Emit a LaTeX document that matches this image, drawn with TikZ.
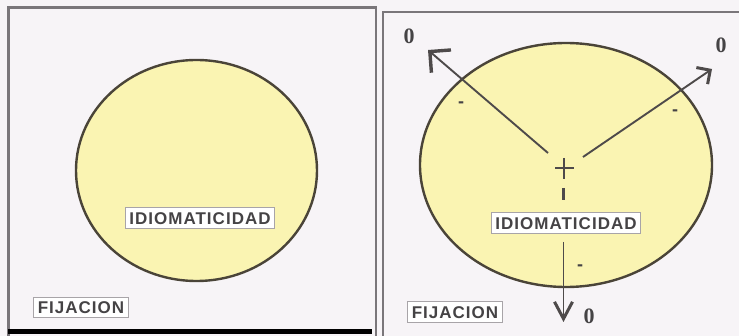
\documentclass[tikz,border=0pt]{standalone}
\usepackage{fontspec}
\newfontfamily\labfont[LetterSpace=6.0]{Liberation Sans}
\newfontfamily\zerofont{Liberation Serif}
\usetikzlibrary{arrows.meta,shapes.geometric}
\definecolor{bg}{HTML}{F7F4F7}
\definecolor{framec}{HTML}{7A767A}
\definecolor{ellfill}{HTML}{FAF4B2}
\definecolor{ellline}{HTML}{4A4438}
\definecolor{boxline}{HTML}{A8A4A8}
\definecolor{txt}{HTML}{454345}
\definecolor{arrc}{HTML}{4E4A4A}
\tikzset{
  frame/.style={draw=framec,line width=2.6pt},
  blob/.style={ellipse,draw=ellline,fill=ellfill,line width=2.4pt,inner sep=0pt},
  labelbox/.style={draw=boxline,fill=white,line width=0.8pt,text=txt,
    font=\labfont\bfseries\fontsize{17}{17}\selectfont,inner xsep=4pt,inner ysep=4pt,
    text height=12.5pt,text depth=0pt},
  zerolab/.style={text=txt,font=\zerofont\bfseries\fontsize{22}{22}\selectfont,inner sep=0pt},
  minuslab/.style={text=txt,font=\labfont\bfseries\fontsize{18}{18}\selectfont,inner sep=0pt},
  ray/.style={draw=arrc,line width=1.9pt},
}
\begin{document}
\begin{tikzpicture}[x=1pt,y=-1pt]
\useasboundingbox (0,0) rectangle (739,336);
\fill[bg] (0,0) rectangle (739,336);
% left panel
\draw[frame] (8.5,336) -- (8.5,7.5) -- (376,7.5) -- (376,336);
\fill[black] (8,329) rectangle (372,334);
\node[blob,minimum width=241pt,minimum height=221pt] (ellA) at (196.5,170.5) {};
\node[labelbox] (idA) at (200,218) {IDIOMATICIDAD};
\node[labelbox] (fijA) at (81,307.5) {FIJACION};
% right panel
\draw[frame] (383,336) -- (383,12) -- (739,12);
\node[blob,minimum width=292pt,minimum height=244pt] (ellB) at (566,165) {};
\node[labelbox] (idB) at (566,223) {IDIOMATICIDAD};
\node[labelbox] (fijB) at (455,312) {FIJACION};
% plus sign
\coordinate (plusc) at (564,168);
\draw[draw=arrc,line width=2.4pt] (555,168) -- (574,168);
\draw[draw=arrc,line width=2.4pt] (564,158) -- (564,179);
\draw[draw=arrc,line width=2.4pt] (563.5,188) -- (563.5,200);
% rays
\coordinate (startL) at (548,153);
\coordinate (tipL) at (428,50);
\coordinate (startR) at (583,157);
\coordinate (tipR) at (712,69);
\coordinate (startD) at (563.5,242);
\coordinate (tipD) at (563.5,322);
\draw[ray,-{Straight Barb[length=15pt,width=30pt,line width=3.4pt]}] (startL) -- (tipL);
\draw[ray,-{Straight Barb[length=10pt,width=20pt,line width=3pt]}] (startR) -- (tipR);
\draw[ray,-{Straight Barb[length=17pt,width=18pt,line width=3pt]}] (startD) -- (tipD);
% labels
\node[zerolab] (zL) at (409,36) {0};
\node[zerolab] (zR) at (721,45) {0};
\node[zerolab] (zD) at (589,316) {0};
\node[minuslab] (mL) at (461,105) {-};
\node[minuslab] (mR) at (675,113) {-};
\node[minuslab] (mD) at (580,268) {-};
\end{tikzpicture}
\end{document}
